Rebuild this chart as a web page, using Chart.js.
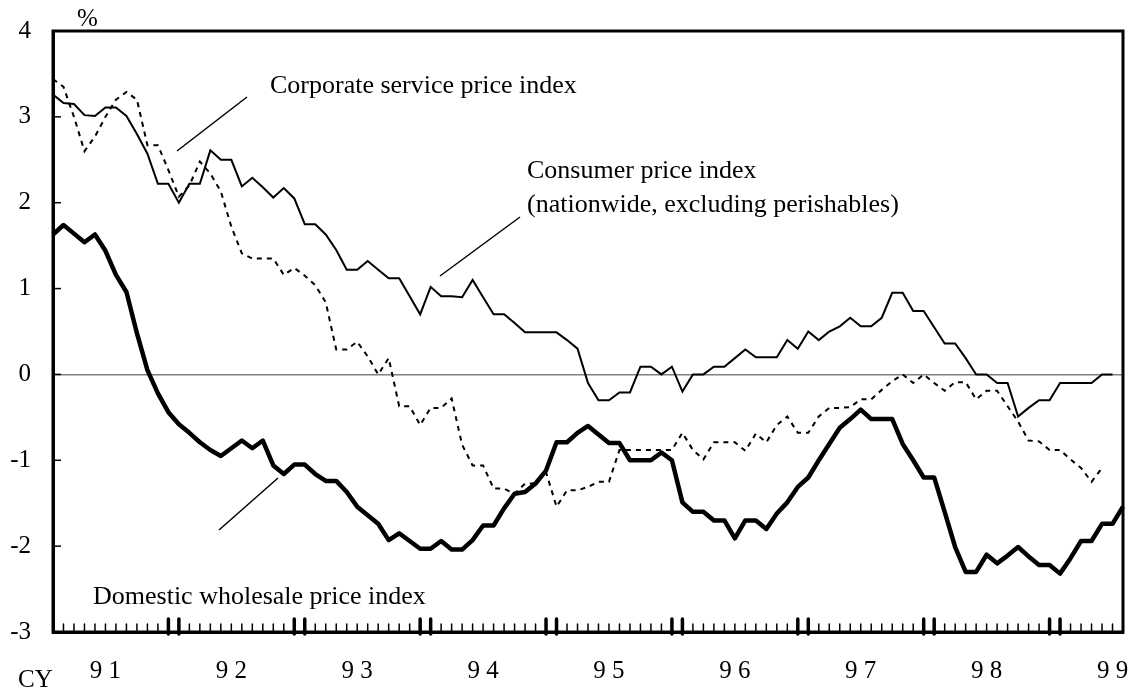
<!DOCTYPE html>
<html>
<head>
<meta charset="utf-8">
<script src="https://cdn.jsdelivr.net/npm/chart.js@4.4.1/dist/chart.umd.min.js"></script>
<style>
  html, body { margin: 0; padding: 0; background: #fff; }
</style>
</head>
<body>
<canvas id="priceChart" width="1136" height="689"></canvas>
<script>
// data: y/y % change, monthly, Jan 1991 - Jul 1999
const years = [1991, 1992, 1993, 1994, 1995, 1996, 1997, 1998, 1999];
const yearLabels = ['9 1', '9 2', '9 3', '9 4', '9 5', '9 6', '9 7', '9 8', '9 9'];
const monthCount = 103;

const months = [];
years.forEach(yr => {
    for (let m = 1; m <= 12; m++) months.push(yr + '-' + m);
});
months.length = monthCount;

const cpi = [
    3.26, 3.16, 3.15, 3.02, 3.01, 3.11, 3.11, 3.01, 2.80, 2.57, 2.22, 2.22,
    2.00, 2.22, 2.22, 2.61, 2.50, 2.50, 2.19, 2.29, 2.18, 2.06, 2.17, 2.05,
    1.75, 1.75, 1.63, 1.45, 1.22, 1.22, 1.32, 1.22, 1.12, 1.12, 0.91, 0.70,
    1.02, 0.91, 0.91, 0.90, 1.10, 0.90, 0.70, 0.70, 0.60, 0.49, 0.49, 0.49,
    0.49, 0.40, 0.30, -0.10, -0.30, -0.30, -0.21, -0.21, 0.09, 0.09, 0.00, 0.09,
    -0.20, 0.00, 0.00, 0.09, 0.09, 0.19, 0.29, 0.20, 0.20, 0.20, 0.40, 0.30,
    0.50, 0.40, 0.50, 0.56, 0.66, 0.56, 0.56, 0.66, 0.95, 0.95, 0.74, 0.74,
    0.55, 0.36, 0.36, 0.19, 0.00, 0.00, -0.10, -0.10, -0.49, -0.39, -0.30, -0.30,
    -0.10, -0.10, -0.10, -0.10, 0.00, 0.00
];

const cspi = [
    3.44, 3.35, 3.00, 2.60, 2.77, 3.00, 3.20, 3.29, 3.20, 2.67, 2.67, 2.38,
    2.07, 2.20, 2.48, 2.34, 2.13, 1.72, 1.41, 1.35, 1.35, 1.35, 1.16, 1.24,
    1.15, 1.04, 0.84, 0.29, 0.29, 0.38, 0.21, 0.00, 0.19, -0.37, -0.37, -0.59,
    -0.39, -0.39, -0.28, -0.82, -1.06, -1.06, -1.33, -1.33, -1.39, -1.27, -1.27, -1.14,
    -1.54, -1.35, -1.35, -1.31, -1.25, -1.25, -0.88, -0.88, -0.88, -0.88, -0.88, -0.88,
    -0.68, -0.88, -0.99, -0.79, -0.79, -0.79, -0.89, -0.69, -0.79, -0.59, -0.49, -0.68,
    -0.68, -0.49, -0.39, -0.39, -0.38, -0.29, -0.29, -0.18, -0.08, 0.00, -0.10, 0.00,
    -0.10, -0.19, -0.09, -0.09, -0.29, -0.19, -0.19, -0.37, -0.55, -0.77, -0.78, -0.88,
    -0.88, -0.99, -1.09, -1.25, -1.09
];

const wpi = [
    1.63, 1.74, 1.64, 1.54, 1.63, 1.44, 1.16, 0.96, 0.48, 0.05, -0.22, -0.44,
    -0.58, -0.68, -0.79, -0.88, -0.95, -0.86, -0.77, -0.86, -0.77, -1.06, -1.16, -1.05,
    -1.05, -1.16, -1.24, -1.24, -1.37, -1.54, -1.64, -1.74, -1.93, -1.85, -1.94, -2.03,
    -2.03, -1.94, -2.04, -2.04, -1.93, -1.76, -1.76, -1.56, -1.39, -1.37, -1.27, -1.12,
    -0.79, -0.79, -0.68, -0.60, -0.70, -0.80, -0.80, -1.00, -1.00, -1.00, -0.91, -1.00,
    -1.49, -1.60, -1.60, -1.70, -1.70, -1.91, -1.70, -1.70, -1.80, -1.62, -1.49, -1.31,
    -1.20, -1.00, -0.81, -0.62, -0.52, -0.41, -0.52, -0.52, -0.52, -0.81, -1.00, -1.20,
    -1.20, -1.60, -2.01, -2.30, -2.30, -2.10, -2.20, -2.11, -2.01, -2.12, -2.22, -2.22,
    -2.32, -2.14, -1.94, -1.94, -1.74, -1.74, -1.54
];

const serif = "'Liberation Serif', 'Times New Roman', serif";

// texty a vodici cary
const notes = [
    { lines: ['Corporate service price index'], x: 270, y: 93, from: [177, 151], to: [247, 97] },
    { lines: ['Consumer price index', '(nationwide, excluding perishables)'], x: 527, y: 178, from: [440, 276], to: [520, 217] },
    { lines: ['Domestic wholesale price index'], x: 93, y: 604, from: [219, 530], to: [278, 478] }
];

const decorations = {
    id: 'decorations',
    afterDatasetsDraw(chart) {
        const { ctx, chartArea: a, scales: { x, y } } = chart;
        ctx.save();
        ctx.strokeStyle = '#000';
        ctx.fillStyle = '#000';

        // frame
        ctx.lineWidth = 3;
        ctx.strokeRect(a.left, a.top, a.right - a.left, a.bottom - a.top);

        // month ticks, heavy pair at each year change
        ctx.lineCap = 'round';
        months.forEach((m, i) => {
            const px = x.getPixelForValue(i);
            const edge = i > 0 && (i % 12 === 0 || i % 12 === 11);
            ctx.lineWidth = edge ? 3.5 : 1.5;
            ctx.beginPath();
            ctx.moveTo(px, a.bottom + (edge ? 2 : 0));
            ctx.lineTo(px, a.bottom - (edge ? 13 : 8));
            ctx.stroke();
        });
        ctx.lineCap = 'butt';

        // y ticks inside
        ctx.lineWidth = 1.5;
        y.ticks.forEach(t => {
            const py = y.getPixelForValue(t.value);
            if (py <= a.top + 2 || py >= a.bottom - 2) return;
            ctx.beginPath();
            ctx.moveTo(a.left, py);
            ctx.lineTo(a.left + 8, py);
            ctx.stroke();
        });

        // unit and CY
        ctx.font = '25px ' + serif;
        ctx.textBaseline = 'alphabetic';
        ctx.textAlign = 'left';
        ctx.fillText('%', 77, 26);
        ctx.fillText('CY', 18, 687);

        // annotations
        ctx.font = '26px ' + serif;
        ctx.lineWidth = 1.5;
        notes.forEach(n => {
            n.lines.forEach((s, k) => ctx.fillText(s, n.x, n.y + k * 34));
            ctx.beginPath();
            ctx.moveTo(n.from[0], n.from[1]);
            ctx.lineTo(n.to[0], n.to[1]);
            ctx.stroke();
        });
        ctx.restore();
    }
};

new Chart(document.getElementById('priceChart').getContext('2d'), {
    type: 'line',
    data: {
        labels: months,
        datasets: [
            {
                label: 'Domestic wholesale price index',
                data: wpi,
                borderColor: '#000',
                borderWidth: 4.5,
                borderJoinStyle: 'round',
                pointRadius: 0,
                tension: 0
            },
            {
                label: 'Consumer price index',
                data: cpi,
                borderColor: '#000',
                borderWidth: 2,
                pointRadius: 0,
                tension: 0
            },
            {
                label: 'Corporate service price index',
                data: cspi,
                borderColor: '#000',
                borderWidth: 2,
                borderDash: [5, 5],
                pointRadius: 0,
                tension: 0
            }
        ]
    },
    options: {
        responsive: false,
        animation: false,
        layout: { padding: { top: 31, right: 13, left: 0, bottom: 0 } },
        scales: {
            x: {
                type: 'category',
                offset: false,
                grid: { display: false, drawTicks: false },
                border: { display: true, color: '#000', width: 3 },
                ticks: {
                    autoSkip: false,
                    maxRotation: 0,
                    minRotation: 0,
                    padding: 24,
                    color: '#000',
                    font: { family: serif, size: 25 },
                    callback: (v, i) => (i % 12 === 5 ? yearLabels[Math.floor(i / 12)] : '')
                },
                afterFit: s => {
                    s.height = 57;
                    s.paddingLeft = 0;
                    s.paddingRight = 0;
                }
            },
            y: {
                min: -3,
                max: 4,
                grid: {
                    drawTicks: false,
                    color: c => (c.tick && c.tick.value === 0 ? '#808080' : 'rgba(0,0,0,0)'),
                    lineWidth: 1.5
                },
                border: { display: true, color: '#000', width: 3 },
                ticks: {
                    stepSize: 1,
                    padding: 22,
                    color: '#000',
                    font: { family: serif, size: 25 }
                },
                afterFit: s => {
                    s.width = 53;
                    s.paddingTop = 0;
                    s.paddingBottom = 0;
                }
            }
        },
        plugins: {
            legend: { display: false },
            tooltip: { enabled: false }
        }
    },
    plugins: [decorations]
});
</script>
</body>
</html>
